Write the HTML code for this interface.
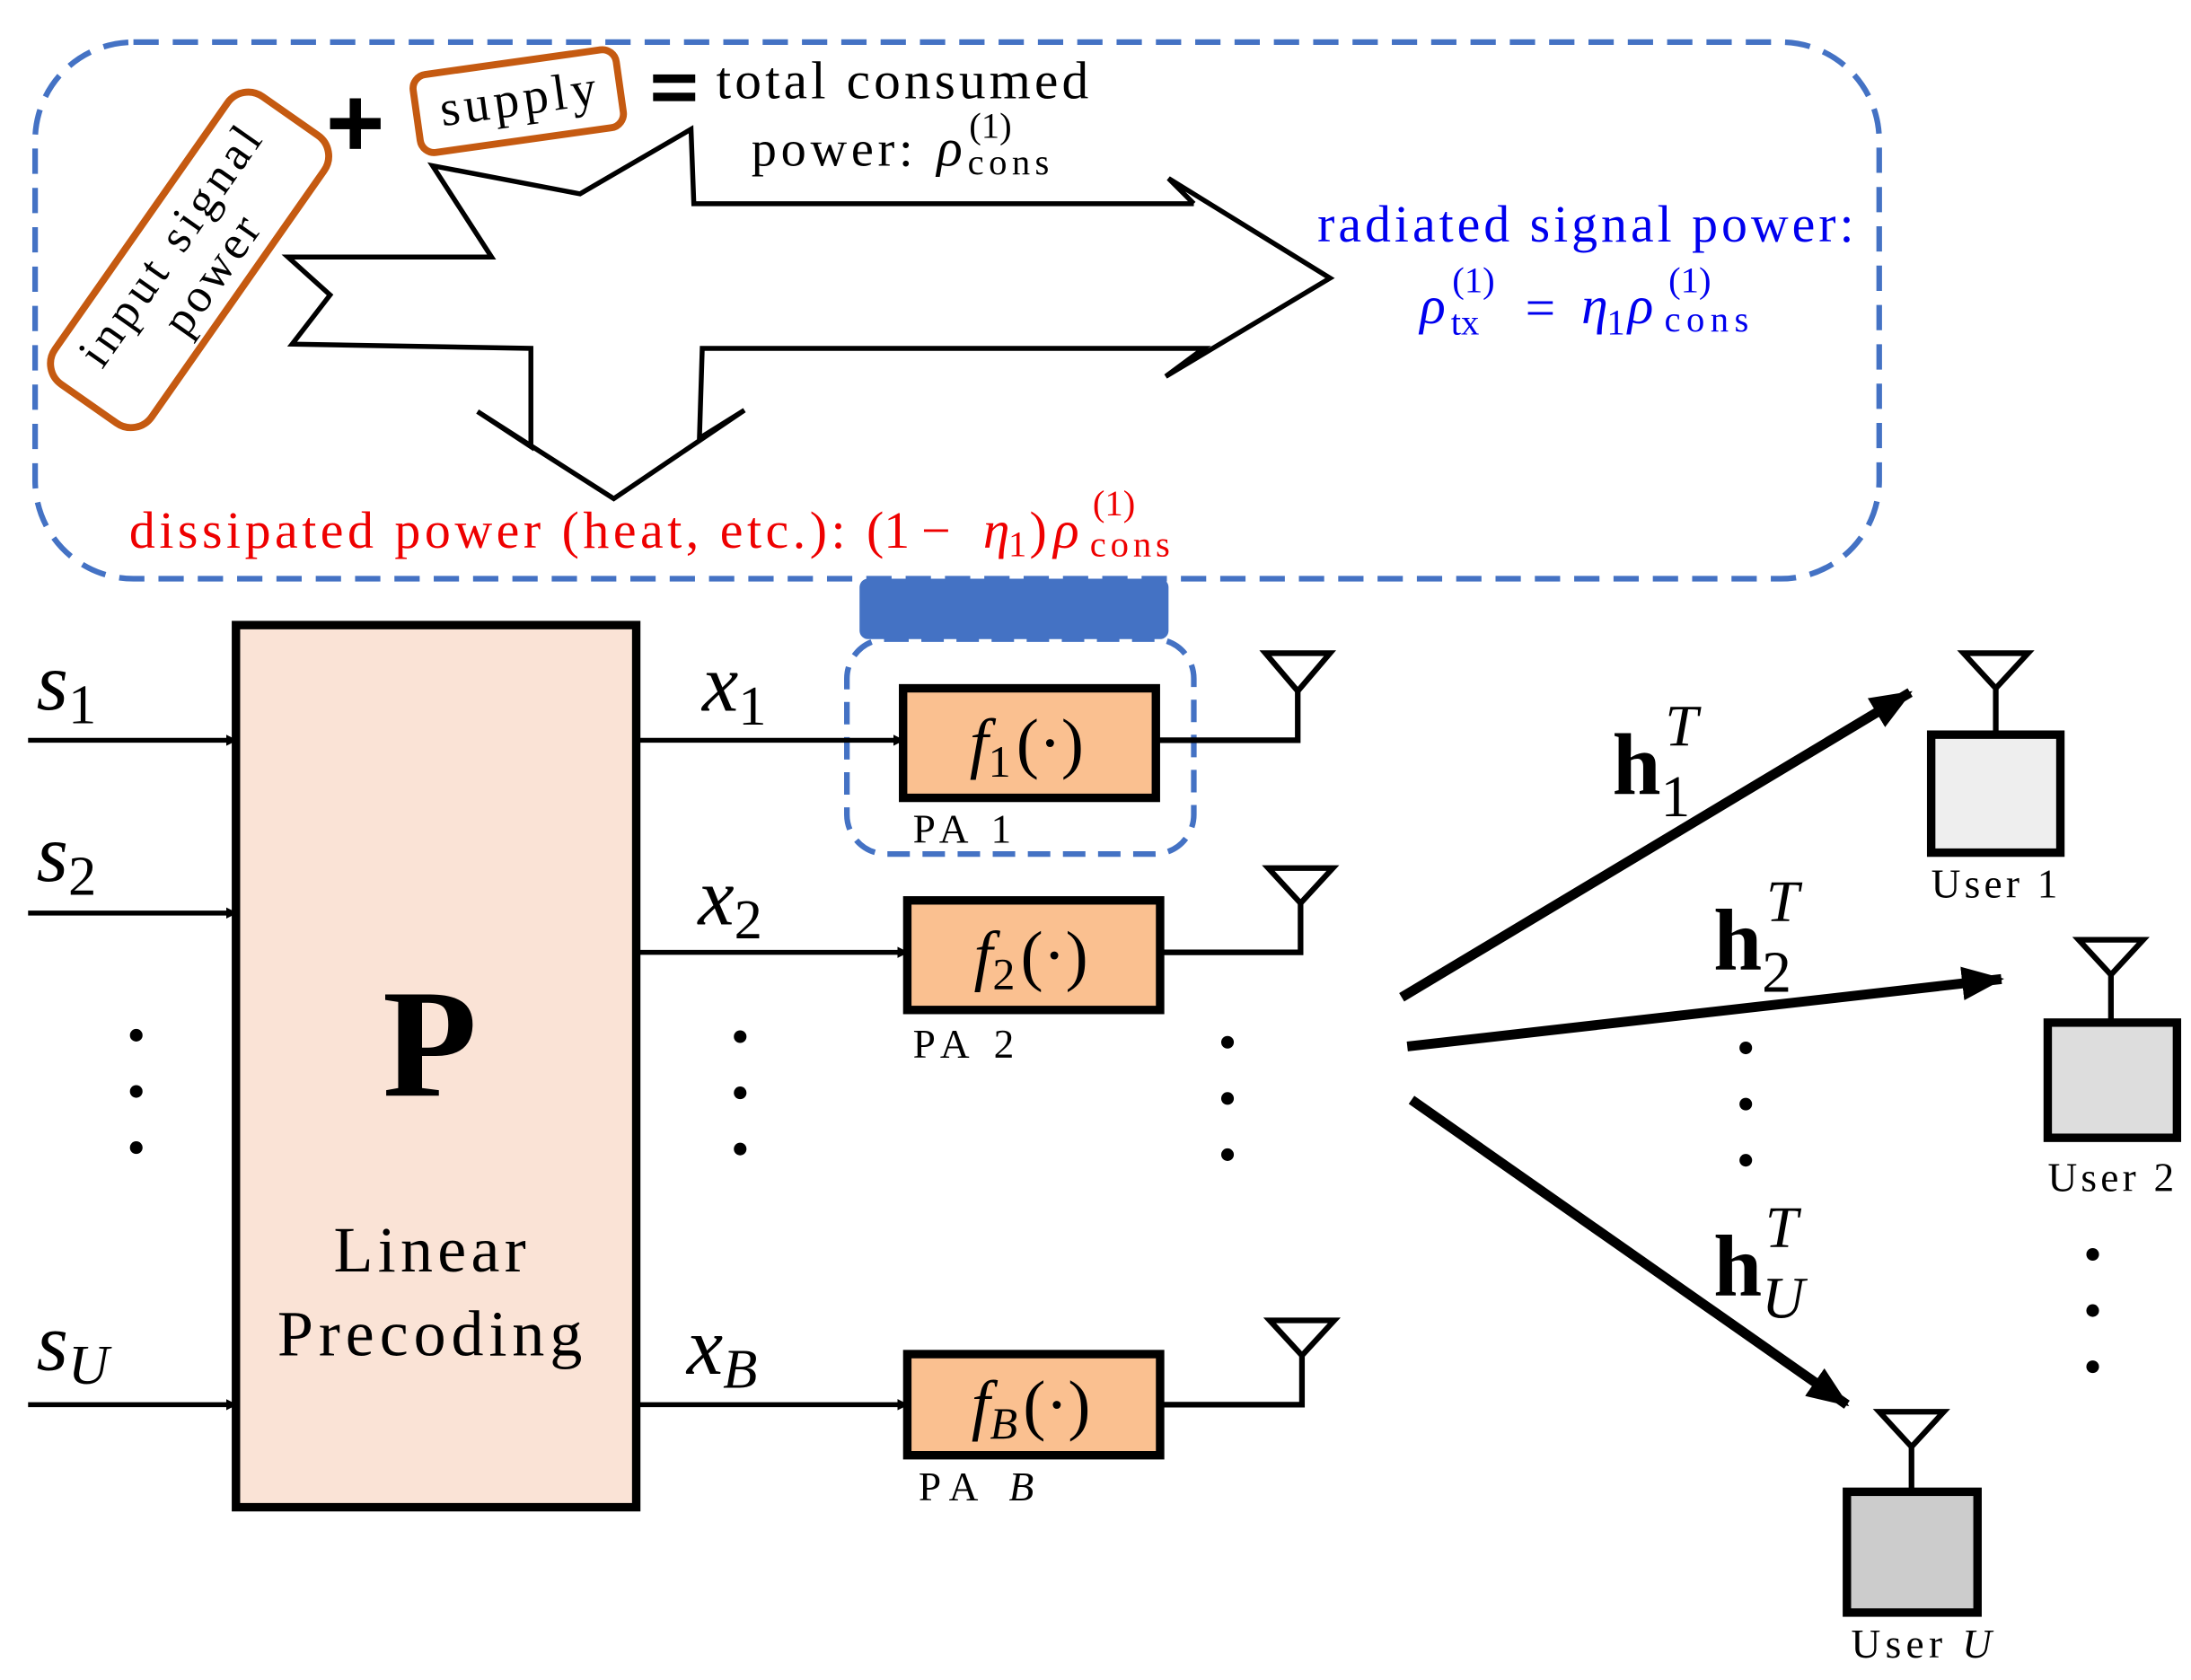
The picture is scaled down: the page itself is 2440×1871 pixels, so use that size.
<!DOCTYPE html>
<html><head><meta charset="utf-8"><style>
html,body{margin:0;padding:0;background:#fff;}
svg{display:block;}
text{font-family:"Liberation Serif",serif;}
</style></head><body>
<svg width="2440" height="1871" viewBox="0 0 1560 1196" preserveAspectRatio="none" xmlns="http://www.w3.org/2000/svg">
<defs>
<marker id="a" markerWidth="8" markerHeight="8" refX="7" refY="4" orient="auto" markerUnits="userSpaceOnUse"><path d="M0,0 L8,4 L0,8 z" fill="#000"/></marker>
<marker id="b" markerWidth="30" markerHeight="24" refX="28" refY="12" orient="auto" markerUnits="userSpaceOnUse"><path d="M0,0 L30,12 L0,24 z" fill="#000"/></marker>
</defs>
<!-- top dashed box -->
<rect x="25" y="30" width="1313" height="382" rx="70" fill="none" stroke="#4472C4" stroke-width="4" stroke-dasharray="18,10"/>
<!-- input signal power -->
<g transform="translate(135,185) rotate(-55)">
<rect x="-125" y="-42" width="250" height="84" rx="18" fill="#fff" stroke="#C55A11" stroke-width="5"/>
<text x="0" y="-6" font-size="34" text-anchor="middle" textLength="200" lengthAdjust="spacing">input signal</text>
<text x="0" y="30" font-size="34" text-anchor="middle" textLength="95" lengthAdjust="spacing">power</text>
</g>
<rect x="235" y="84" width="36" height="8" fill="#000"/><rect x="249" y="70" width="8" height="36" fill="#000"/>
<g transform="translate(369,72) rotate(-8)">
<rect x="-73" y="-28" width="146" height="56" rx="10" fill="#fff" stroke="#C55A11" stroke-width="5"/>
<text x="0" y="10" font-size="36" text-anchor="middle" textLength="112" lengthAdjust="spacing">supply</text>
</g>
<rect x="465" y="53" width="30" height="6" fill="#000"/><rect x="465" y="66" width="30" height="6" fill="#000"/>
<text x="510" y="70" font-size="38" textLength="265" lengthAdjust="spacing">total consumed</text>
<text x="535" y="118" font-size="36" textLength="115" lengthAdjust="spacing">power:</text>
<text x="667" y="118" font-size="38" font-style="italic">ρ</text>
<text x="689" y="124" font-size="26" textLength="58" lengthAdjust="spacing">cons</text>
<text x="690" y="98" font-size="26">(1)</text>
<!-- big arrow -->
<polyline fill="none" stroke="#000" stroke-width="3.5" points="850,145 494,145 492,92 413,138 308,118 350,183 205,183 235,210 208,245 378,248 378,318 340,293 437,355 530,292 498,312 500,248 857,248 830,268 947,198 832,127 850,145"/>
<g fill="#0000EE">
<text x="938" y="172" font-size="37" textLength="382" lengthAdjust="spacing">radiated signal power:</text>
<text x="1011" y="230" font-size="38" font-style="italic">ρ</text>
<text x="1033" y="238" font-size="26">tx</text>
<text x="1034" y="208" font-size="26">(1)</text>
<text x="1086" y="232" font-size="38">=</text>
<text x="1126" y="230" font-size="38" font-style="italic">η</text>
<text x="1144" y="238" font-size="26">1</text>
<text x="1159" y="230" font-size="38" font-style="italic">ρ</text>
<text x="1185" y="236" font-size="26" textLength="60" lengthAdjust="spacing">cons</text>
<text x="1188" y="208" font-size="26">(1)</text>
</g>
<g fill="#EE0000">
<text x="92" y="390" font-size="37" textLength="510" lengthAdjust="spacing">dissipated power (heat, etc.):</text>
<text x="617" y="390" font-size="37">(1</text>
<text x="656" y="390" font-size="37">−</text>
<text x="700" y="390" font-size="38" font-style="italic">η</text>
<text x="718" y="396" font-size="26">1</text>
<text x="733" y="390" font-size="37">)</text>
<text x="750" y="390" font-size="38" font-style="italic">ρ</text>
<text x="776" y="396" font-size="26" textLength="57" lengthAdjust="spacing">cons</text>
<text x="778" y="367" font-size="26">(1)</text>
</g>
<!-- blue bar and small dashed box -->
<rect x="612" y="412" width="220" height="43" rx="6" fill="#4472C4"/>
<rect x="603" y="455" width="247" height="153" rx="28" fill="none" stroke="#4472C4" stroke-width="4" stroke-dasharray="16,9"/>
<!-- P box -->
<rect x="168" y="445" width="285" height="628" fill="#FAE3D6" stroke="#000" stroke-width="6"/>
<text x="306" y="780" font-size="110" font-weight="bold" text-anchor="middle">P</text>
<text x="306" y="905" font-size="46" text-anchor="middle" textLength="137" lengthAdjust="spacing">Linear</text>
<text x="306" y="965" font-size="46" text-anchor="middle" textLength="217" lengthAdjust="spacing">Precoding</text>
<!-- inputs -->
<g stroke="#000" stroke-width="3.5" marker-end="url(#a)">
<line x1="20" y1="527" x2="168" y2="527"/>
<line x1="20" y1="650" x2="168" y2="650"/>
<line x1="20" y1="1000" x2="168" y2="1000"/>
<line x1="453" y1="527" x2="643" y2="527"/>
<line x1="453" y1="678" x2="646" y2="678"/>
<line x1="453" y1="1000" x2="646" y2="1000"/>
</g>
<g font-size="58" font-style="italic">
<text x="26" y="505">s<tspan font-size="40" font-style="normal" dy="10">1</tspan></text>
<text x="26" y="627">s<tspan font-size="40" font-style="normal" dy="10">2</tspan></text>
<text x="26" y="975">s<tspan font-size="40" dy="10">U</tspan></text>
<text x="500" y="506">x<tspan font-size="40" font-style="normal" dy="10">1</tspan></text>
<text x="497" y="658">x<tspan font-size="40" font-style="normal" dy="10">2</tspan></text>
<text x="489" y="978">x<tspan font-size="40" dy="10">B</tspan></text>
</g>
<!-- PA boxes -->
<g fill="#FAC090" stroke="#000" stroke-width="6">
<rect x="643" y="490" width="180" height="78"/>
<rect x="646" y="641" width="180" height="78"/>
<rect x="646" y="964" width="180" height="72"/>
</g>
<g font-size="48" text-anchor="middle">
<text x="731" y="545"><tspan font-style="italic">f</tspan><tspan font-size="32" dy="8">1</tspan><tspan dy="-8" dx="4">(·)</tspan></text>
<text x="734" y="696"><tspan font-style="italic">f</tspan><tspan font-size="32" dy="8">2</tspan><tspan dy="-8" dx="4">(·)</tspan></text>
<text x="734" y="1016"><tspan font-style="italic">f</tspan><tspan font-size="32" font-style="italic" dy="8">B</tspan><tspan dy="-8" dx="4">(·)</tspan></text>
</g>
<g font-size="29">
<text x="650" y="600" textLength="70" lengthAdjust="spacing">PA 1</text>
<text x="650" y="753" textLength="72" lengthAdjust="spacing">PA 2</text>
<text x="654" y="1068" textLength="82" lengthAdjust="spacing">PA <tspan font-style="italic">B</tspan></text>
</g>
<!-- antennas -->
<g fill="none" stroke="#000" stroke-width="4">
<polyline points="823,527 924,527 924,492"/><path d="M901,465 L947,465 L924,492 z"/>
<polyline points="826,678 926,678 926,643"/><path d="M903,618 L949,618 L926,643 z"/>
<polyline points="826,1000 927,1000 927,965"/><path d="M904,940 L950,940 L927,965 z"/>
</g>
<!-- dots -->
<g fill="#000">
<circle cx="97" cy="737" r="4.5"/><circle cx="97" cy="777" r="4.5"/><circle cx="97" cy="817" r="4.5"/>
<circle cx="527" cy="738" r="4.5"/><circle cx="527" cy="778" r="4.5"/><circle cx="527" cy="818" r="4.5"/>
<circle cx="874" cy="742" r="4.5"/><circle cx="874" cy="782" r="4.5"/><circle cx="874" cy="822" r="4.5"/>
<circle cx="1243" cy="746" r="4.5"/><circle cx="1243" cy="786" r="4.5"/><circle cx="1243" cy="826" r="4.5"/>
<circle cx="1490" cy="893" r="4.5"/><circle cx="1490" cy="933" r="4.5"/><circle cx="1490" cy="973" r="4.5"/>
</g>
<!-- channel arrows -->
<g stroke="#000" stroke-width="7" marker-end="url(#b)">
<line x1="998" y1="710" x2="1360" y2="493"/>
<line x1="1002" y1="745" x2="1425" y2="697"/>
<line x1="1005" y1="783" x2="1315" y2="1000"/>
</g>
<g font-size="62" font-weight="bold">
<text x="1148" y="565">h<tspan font-size="42" font-weight="normal" dy="16">1</tspan><tspan font-size="42" font-weight="normal" font-style="italic" dx="-18" dy="-50">T</tspan></text>
<text x="1220" y="690">h<tspan font-size="42" font-weight="normal" dy="16">2</tspan><tspan font-size="42" font-weight="normal" font-style="italic" dx="-18" dy="-50">T</tspan></text>
<text x="1220" y="922">h<tspan font-size="42" font-weight="normal" font-style="italic" dy="16">U</tspan><tspan font-size="42" font-weight="normal" font-style="italic" dx="-28" dy="-50">T</tspan></text>
</g>
<!-- users -->
<g stroke="#000" stroke-width="6">
<rect x="1375" y="523" width="92" height="84" fill="#EEEEEE"/>
<rect x="1458" y="728" width="92" height="82" fill="#DDDDDD"/>
<rect x="1315" y="1062" width="93" height="86" fill="#CCCCCC"/>
</g>
<g fill="none" stroke="#000" stroke-width="4">
<line x1="1421" y1="523" x2="1421" y2="490"/><path d="M1398,465 L1444,465 L1421,490 z"/>
<line x1="1503" y1="728" x2="1503" y2="694"/><path d="M1480,669 L1526,669 L1503,694 z"/>
<line x1="1361" y1="1062" x2="1361" y2="1030"/><path d="M1338,1005 L1384,1005 L1361,1030 z"/>
</g>
<g font-size="29">
<text x="1375" y="639" textLength="90" lengthAdjust="spacing">User 1</text>
<text x="1458" y="848" textLength="90" lengthAdjust="spacing">User 2</text>
<text x="1318" y="1180" textLength="100" lengthAdjust="spacing">User <tspan font-style="italic">U</tspan></text>
</g>
</svg>
</body></html>
